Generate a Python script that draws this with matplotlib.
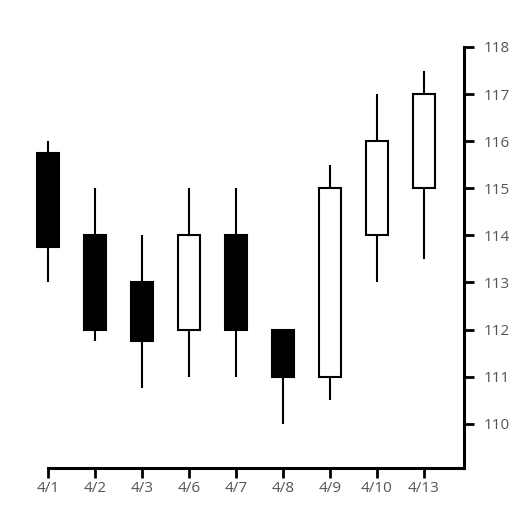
import numpy as np
import matplotlib.pyplot as plt
from matplotlib.patches import Rectangle

dates = ['4/1', '4/2', '4/3', '4/6', '4/7', '4/8', '4/9', '4/10', '4/13']
opens = [115.75, 114, 113, 112, 114, 112, 111, 114, 115]
highs = [116, 115, 114, 115, 115, 112, 115.5, 117, 117.5]
lows = [113, 111.75, 110.75, 111, 111, 110, 110.5, 113, 113.5]
closes = [113.75, 112, 111.75, 114, 112, 111, 115, 116, 117]

plt.rcParams['font.family'] = ['Open Sans', 'DejaVu Sans']

fig = plt.figure(figsize=(5.25, 5.25), dpi=100)
ax = fig.add_axes([0.0467, 0.1086, 0.837, 0.8019])

width = 0.48
for i, (o, h, l, c) in enumerate(zip(opens, highs, lows, closes)):
    lo, hi = min(o, c), max(o, c)
    ax.plot([i, i], [hi, h], color='black', lw=1.5, solid_capstyle='butt', zorder=1)
    ax.plot([i, i], [l, lo], color='black', lw=1.5, solid_capstyle='butt', zorder=1)
    face = 'black' if c < o else 'white'
    ax.add_patch(Rectangle((i - width / 2, lo), width, hi - lo,
                           facecolor=face, edgecolor='black', lw=1.5, zorder=2))

ax.set_xlim(-0.5, 8.85)
ax.set_ylim(109.06, 118)
ax.set_xticks(range(len(dates)))
ax.set_xticklabels(dates)
ax.set_yticks(range(110, 119))

ax.yaxis.tick_right()
for s in ['left', 'top']:
    ax.spines[s].set_visible(False)
for s in ['right', 'bottom']:
    ax.spines[s].set_linewidth(2.2)
ax.spines['bottom'].set_bounds(0, 8.85)

ax.tick_params(axis='both', direction='out', length=7.5, width=2,
               labelsize=11, labelcolor='#555555')
ax.tick_params(axis='x', pad=2)
ax.tick_params(axis='y', pad=7)

fig.savefig('out.png', dpi=100)
